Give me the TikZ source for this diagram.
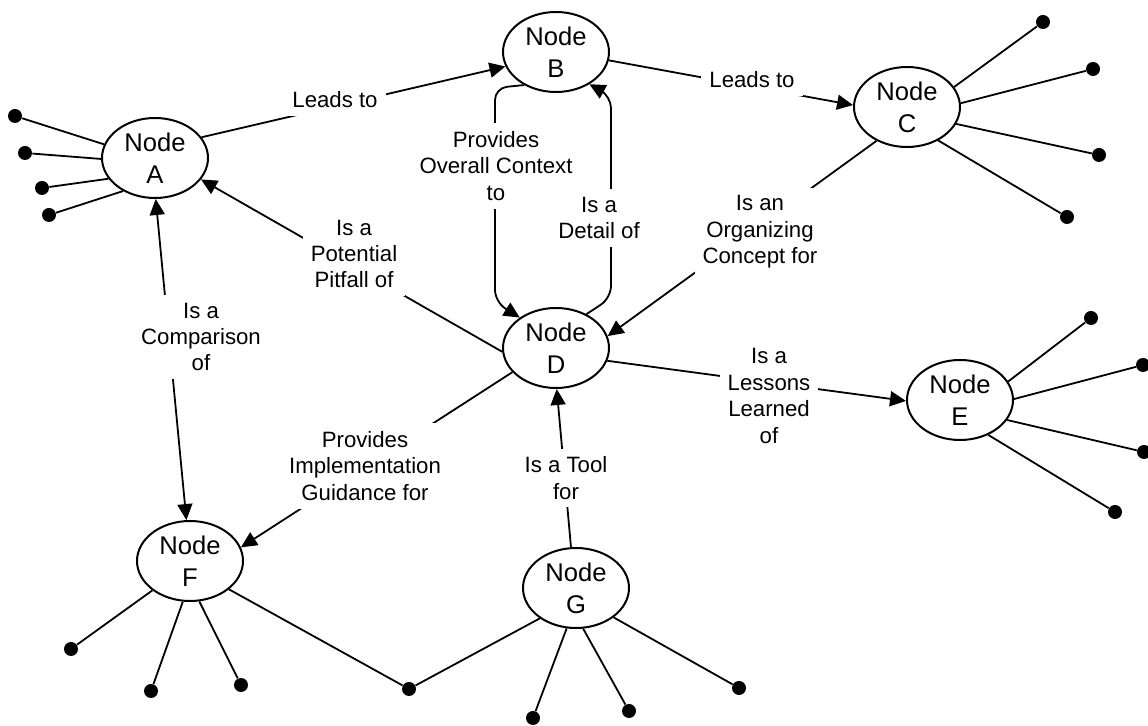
\documentclass[tikz,border=0pt]{standalone}
\usepackage{fontspec}
\setmainfont{Liberation Sans}
\usetikzlibrary{arrows.meta,shapes.geometric}
\tikzset{
  cnode/.style ={ellipse, draw=black, line width=1pt, fill=white, inner sep=0pt,
                 minimum width=53pt, minimum height=40pt, align=center,
                 font=\fontsize{12.8}{16}\selectfont},
  leaf/.style  ={circle, fill=black, inner sep=0pt, minimum size=7pt},
  link/.style  ={line width=0.9pt},
  arr/.style   ={link, -{Triangle[length=8pt, width=7.5pt]}},
  barr/.style  ={link, {Triangle[length=8pt, width=7.5pt]}-{Triangle[length=8pt, width=7.5pt]}},
  el/.style    ={fill=white, align=center, inner sep=4pt,
                 font=\fontsize{11.1}{13.2}\selectfont},
}

\begin{document}
\begin{tikzpicture}[x=0.5pt, y=-0.5pt]
  \useasboundingbox (0,0) rectangle (1148,726);

  % concept nodes
  \node[cnode] (A) at (155,158) {Node\\A};
  \node[cnode] (B) at (556,52)  {Node\\B};
  \node[cnode] (C) at (907,107) {Node\\C};
  \node[cnode] (D) at (556,348) {Node\\D};
  \node[cnode] (E) at (960,400) {Node\\E};
  \node[cnode] (F) at (190,561) {Node\\F};
  \node[cnode] (G) at (576,588) {Node\\G};

  % loose ends
  \node[leaf] (a1) at (15,116) {};
  \node[leaf] (a2) at (25,153) {};
  \node[leaf] (a3) at (42,188) {};
  \node[leaf] (a4) at (49,215) {};
  \node[leaf] (c1) at (1043,22)  {};
  \node[leaf] (c2) at (1093,69)  {};
  \node[leaf] (c3) at (1099,155) {};
  \node[leaf] (c4) at (1067,217) {};
  \node[leaf] (e1) at (1091,318) {};
  \node[leaf] (e2) at (1143,365) {};
  \node[leaf] (e3) at (1144,452) {};
  \node[leaf] (e4) at (1115,512) {};
  \node[leaf] (f1) at (71,649)  {};
  \node[leaf] (f2) at (151,691) {};
  \node[leaf] (f3) at (241,685) {};
  \node[leaf] (fg) at (409,689) {};
  \node[leaf] (g1) at (533,718) {};
  \node[leaf] (g2) at (629,711) {};
  \node[leaf] (g3) at (739,688) {};

  \draw[link] (A.165) -- (a1);
  \draw[link] (A.181) -- (a2);
  \draw[link] (A.204) -- (a3);
  \draw[link] (A.226) -- (a4);
  \draw[link] (C.23)  -- (c1);
  \draw[link] (C.4)   -- (c2);
  \draw[link] (C.341) -- (c3);
  \draw[link] (C.313) -- (c4);
  \draw[link] (E.21)  -- (e1);
  \draw[link] (E.1)   -- (e2);
  \draw[link] (E.337) -- (e3);
  \draw[link] (E.309) -- (e4);
  \draw[link] (F.218) -- (f1);
  \draw[link] (F.260) -- (f2);
  \draw[link] (F.283) -- (f3);
  \draw[link] (G.257) -- (g1);
  \draw[link] (G.280) -- (g2);
  \draw[link] (G.322) -- (g3);
  \draw[link] (F.324) -- (fg) -- (G.220);

  % relations
  \coordinate (bl1) at (495,88);
  \coordinate (bl2) at (495,302);
  \coordinate (br1) at (611,298);
  \coordinate (br2) at (611,96);
  \draw[arr] (A.24) -- (B.196);
  \draw[arr] (B.351) -- (C.178);
  \draw[arr, rounded corners=6pt] (B.226) -- (bl1) -- (bl2) -- (D.140);
  \draw[arr, rounded corners=6pt] (D.48) -- (br1) -- (br2) -- (B.316);
  \draw[arr] (D.184) -- (A.335);
  \draw[arr] (C.228) -- (D.13);
  \draw[arr] (D.346) -- (E.181);
  \draw[arr] (D.209) -- (F.15);
  \draw[arr] (G.97) -- (D.271);
  \draw[barr] (A.271) -- (F.95);

  % relation labels
  \node[el] (lAB) at (335,100) {Leads to};
  \node[el] (lBC) at (752,80)  {Leads to};
  \node[el] (lBD) at (496,166) {Provides\\Overall Context\\to};
  \node[el] (lDB) at (599,218) {Is a\\Detail of};
  \node[el] (lDA) at (354,254) {Is a\\Potential\\Pitfall of};
  \node[el] (lCD) at (760,232) {Is an\\Organizing\\Concept for};
  \node[el] (lAF) at (201,337) {Is a\\Comparison\\of};
  \node[el] (lDE) at (769,396) {Is a\\Lessons\\Learned\\of};
  \node[el] (lDF) at (365,466) {Provides\\Implementation\\Guidance for};
  \node[el] (lGD) at (566,478) {Is a Tool\\for};
\end{tikzpicture}
\end{document}
